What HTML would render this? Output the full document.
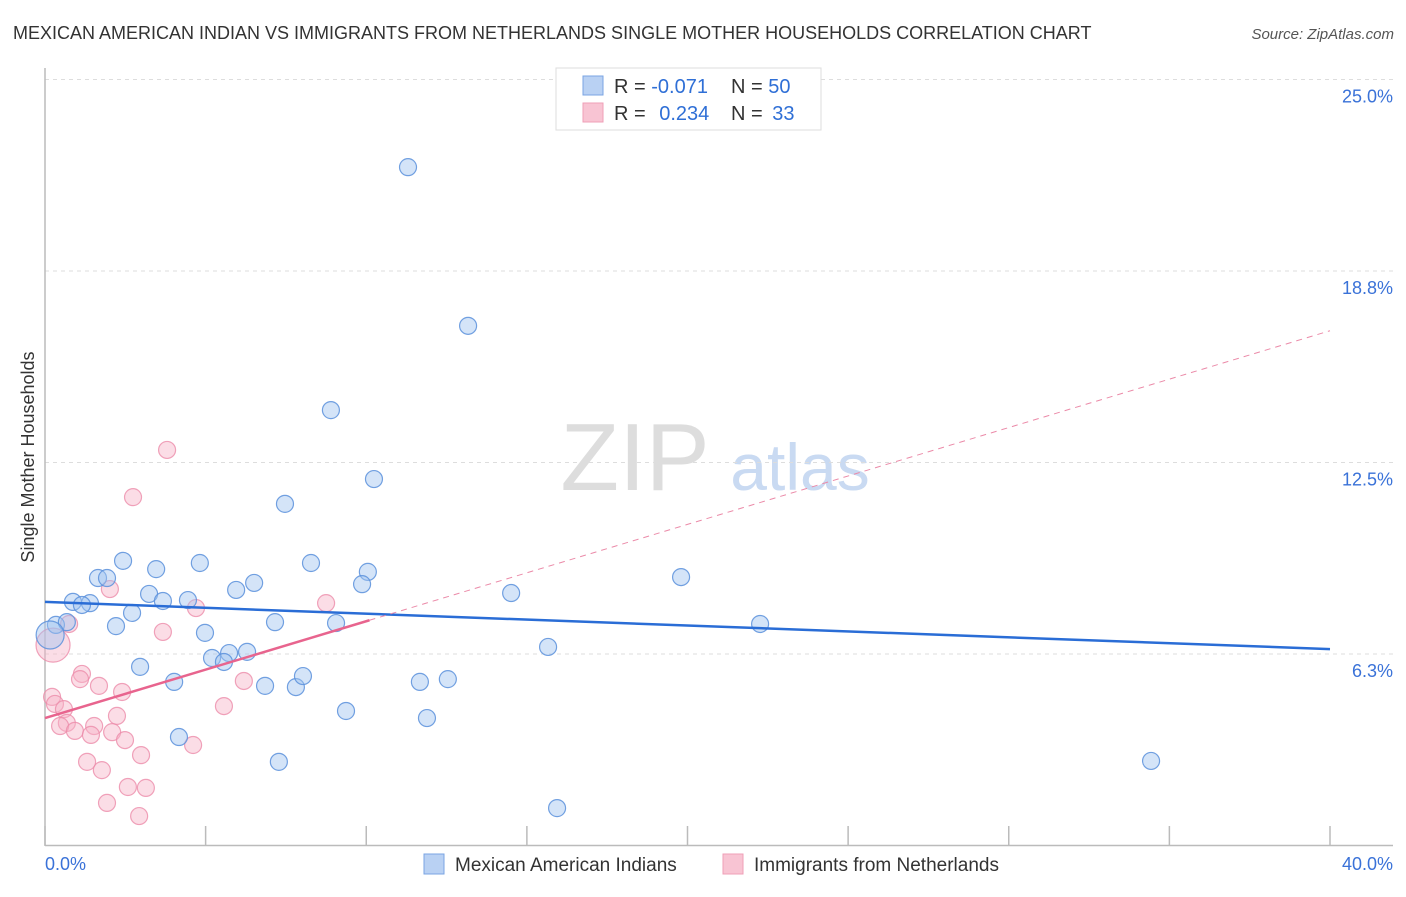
<!DOCTYPE html>
<html><head><meta charset="utf-8">
<style>
body{margin:0;background:#fff;font-family:"Liberation Sans",sans-serif;}
svg text{font-family:"Liberation Sans",sans-serif;}
</style></head>
<body>
<svg id="chart" width="1406" height="892" viewBox="0 0 1406 892" xmlns="http://www.w3.org/2000/svg">
<text x="13" y="39" font-size="18" fill="#333">MEXICAN AMERICAN INDIAN VS IMMIGRANTS FROM NETHERLANDS SINGLE MOTHER HOUSEHOLDS CORRELATION CHART</text>
<text x="1394" y="39" font-size="15" fill="#555" text-anchor="end" font-style="italic">Source: ZipAtlas.com</text>
<text transform="translate(34,457) rotate(-90)" font-size="18" fill="#333" text-anchor="middle">Single Mother Households</text>
<g>
<text x="635" y="490" font-size="96" fill="#ddd" text-anchor="middle" font-family="Liberation Serif,serif">ZIP</text>
<text x="800" y="490" font-size="66" fill="#c9daf2" text-anchor="middle">atlas</text>
</g>
<g id="grid"></g>
<g id="axes"></g>
<g id="points"></g>
<g id="trends"></g>
<g>
<rect x="556" y="68" width="265" height="62" fill="#fff" stroke="#ddd"/>
<rect x="583" y="76" width="20" height="19" fill="#b9d1f3" stroke="#7aa4e3"/>
<rect x="583" y="103" width="20" height="19" fill="#f8c4d3" stroke="#ef9fb7"/>
<text x="614" y="93" font-size="20" fill="#333">R = <tspan fill="#2f6fd6">-0.071</tspan></text>
<text x="731" y="93" font-size="20" fill="#333">N = <tspan fill="#2f6fd6">50</tspan></text>
<text x="614" y="120" font-size="20" fill="#333">R = <tspan fill="#2f6fd6" dx="8">0.234</tspan></text>
<text x="731" y="120" font-size="20" fill="#333">N = <tspan fill="#2f6fd6" dx="4">33</tspan></text>
</g>
<g>
<rect x="424" y="854" width="20" height="20" fill="#b9d1f3" stroke="#7aa4e3"/>
<text x="455" y="871" font-size="19" fill="#333">Mexican American Indians</text>
<rect x="723" y="854" width="20" height="20" fill="#f8c4d3" stroke="#ef9fb7"/>
<text x="754" y="871" font-size="19" fill="#333">Immigrants from Netherlands</text>
</g>
</svg>
<script>
const blueX=[11.30,13.17,8.90,10.24,7.47,2.43,4.82,8.28,3.46,1.65,1.93,10.05,6.51,19.80,9.87,5.95,3.24,14.51,0.87,1.40,1.15,3.67,4.45,2.71,2.21,7.16,9.06,22.26,0.34,0.68,4.98,15.66,5.73,6.29,5.20,5.57,2.96,4.02,6.85,7.81,8.03,11.67,12.54,9.37,11.89,4.17,7.28,34.43,15.94,0.16];
const blueY=[22.14,16.96,14.21,11.96,11.15,9.29,9.22,9.22,9.02,8.73,8.73,8.93,8.57,8.76,8.53,8.34,8.21,8.24,7.95,7.91,7.85,7.98,8.01,7.59,7.16,7.29,7.26,7.23,7.20,7.29,6.94,6.48,6.28,6.32,6.12,5.99,5.83,5.34,5.21,5.17,5.53,5.34,5.43,4.39,4.16,3.54,2.73,2.76,1.22,6.87];
const pinkX=[3.80,2.74,2.02,4.70,8.75,3.67,0.75,0.25,1.15,1.09,1.68,2.40,6.19,0.22,0.31,0.59,5.57,2.24,0.68,0.47,1.53,0.93,1.43,2.09,2.49,4.61,2.99,1.31,1.77,2.58,3.14,1.93,2.93];
const pinkY=[12.91,11.37,8.37,7.75,7.91,6.97,7.23,6.54,5.60,5.43,5.21,5.01,5.37,4.85,4.62,4.45,4.55,4.23,4.00,3.90,3.90,3.74,3.61,3.70,3.44,3.28,2.95,2.73,2.46,1.91,1.88,1.39,0.96];
const yTicks=[25.0,18.8,12.5,6.3];
const yTickLabels=["25.0%","18.8%","12.5%","6.3%"];
const xTicks=[0,5,10,15,20,25,30,35,40];
const xEndLabels=["0.0%","40.0%"];
const blueTrend=[7.95,6.41];   // y at x=0 and x=40
const pinkTrend=[4.16,16.8];   // y at x=0 and x=40
const pinkSolidEnd=10.1;

const NS="http://www.w3.org/2000/svg";
const X0=45,X1=1330,Y0=845.5;
const sx=v=>X0+v*(X1-X0)/40;
const sy=v=>Y0-v*30.64;
function mk(tag,attrs,parent){const e=document.createElementNS(NS,tag);for(const k in attrs)e.setAttribute(k,attrs[k]);parent.appendChild(e);return e;}
const grid=document.getElementById('grid'),axes=document.getElementById('axes'),pts=document.getElementById('points'),tr=document.getElementById('trends');
yTicks.forEach((t,i)=>{
  const l=mk('line',{x1:X0,x2:1393,y1:sy(t===6.3?6.25:t===18.8?18.75:t),y2:sy(t===6.3?6.25:t===18.8?18.75:t),stroke:'#ddd','stroke-dasharray':'4,4'},grid);
  
  
  const tx=mk('text',{x:1393,y:sy(t===6.3?6.25:t===18.8?18.75:t)+23,'font-size':18,fill:'#3a72d8','text-anchor':'end'},axes);
  tx.textContent=yTickLabels[i];
  
  
});
let a=mk('line',{x1:X0,x2:X0,y1:68,y2:846,stroke:'#bbb','stroke-width':1.5},axes);


a=mk('line',{x1:X0,x2:1393,y1:845.5,y2:845.5,stroke:'#bbb','stroke-width':1.5},axes);


xTicks.forEach(t=>{
  const l=mk('line',{x1:sx(t),x2:sx(t),y1:826,y2:845,stroke:'#bbb','stroke-width':1.5},axes);
  
  
});
[[0,'start',45],[40,'end',1393]].forEach((d,i)=>{
  const tx=mk('text',{x:d[2],y:870,'font-size':18,fill:'#3a72d8','text-anchor':d[1]},axes);
  tx.textContent=xEndLabels[i];
  
  
});
pinkX.forEach((x,i)=>{
  const c=mk('circle',{cx:sx(x),cy:sy(pinkY[i]),r:i===7?17:8.5,fill:'rgba(246,180,200,0.45)',stroke:'rgba(236,140,170,0.8)','stroke-width':1.2},pts);
  
  
});
blueX.forEach((x,i)=>{
  const c=mk('circle',{cx:sx(x),cy:sy(blueY[i]),r:i===49?14:8.5,fill:'rgba(160,195,240,0.45)',stroke:'rgba(90,145,220,0.85)','stroke-width':1.2},pts);
  
  
});
let l=mk('line',{x1:sx(0),y1:sy(blueTrend[0]),x2:sx(40),y2:sy(blueTrend[1]),stroke:'#2a6dd6','stroke-width':2.5},tr);


const py=x=>pinkTrend[0]+(pinkTrend[1]-pinkTrend[0])*x/40;
l=mk('line',{x1:sx(pinkSolidEnd),y1:sy(py(pinkSolidEnd)),x2:sx(40),y2:sy(py(40)),stroke:'#eb8aa8','stroke-width':1,'stroke-dasharray':'6,5'},tr);


l=mk('line',{x1:sx(0),y1:sy(py(0)),x2:sx(pinkSolidEnd),y2:sy(py(pinkSolidEnd)),stroke:'#e8648e','stroke-width':2.5},tr);


</script>
</body></html>
